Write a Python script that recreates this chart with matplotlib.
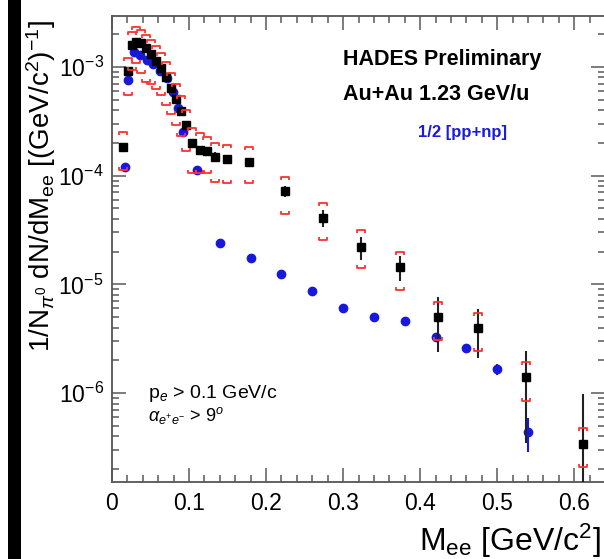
import numpy as np
import matplotlib
matplotlib.use('Agg')
from matplotlib import pyplot as plt
from matplotlib.path import Path
from matplotlib.patches import Rectangle
from matplotlib.ticker import MultipleLocator, LogLocator, FixedLocator, FuncFormatter, NullFormatter

plt.rcParams['font.family'] = ['Liberation Sans', 'DejaVu Sans']
plt.rcParams['mathtext.fontset'] = 'custom'
plt.rcParams['mathtext.rm'] = 'Liberation Sans'
plt.rcParams['mathtext.it'] = 'Liberation Sans:italic'
plt.rcParams['mathtext.bf'] = 'Liberation Sans:bold'

# HADES Au+Au data (black squares)
mee_data = [0.014, 0.021, 0.026, 0.031, 0.038, 0.044, 0.051, 0.057, 0.064, 0.070,
            0.077, 0.083, 0.090, 0.096, 0.104, 0.114, 0.123, 0.134, 0.149, 0.178,
            0.225, 0.274, 0.323, 0.374, 0.423, 0.475, 0.538, 0.612]
yield_data = [1.84e-4, 9.2e-4, 1.59e-3, 1.70e-3, 1.66e-3, 1.50e-3, 1.32e-3, 1.14e-3, 9.8e-4, 8.1e-4,
              6.4e-4, 5.1e-4, 3.9e-4, 2.9e-4, 2.0e-4, 1.72e-4, 1.69e-4, 1.49e-4, 1.42e-4, 1.34e-4,
              7.2e-5, 4.1e-5, 2.2e-5, 1.44e-5, 5.0e-6, 4.0e-6, 1.40e-6, 3.4e-7]
stat_err = [1.2e-5, 4e-5, 6e-5, 6e-5, 6e-5, 5e-5, 4e-5, 4e-5, 3.5e-5, 3e-5,
            2.5e-5, 2e-5, 1.8e-5, 1.5e-5, 1.2e-5, 1.2e-5, 1.2e-5, 1.6e-5, 1.4e-5, 1.0e-5,
            8e-6, 7e-6, 5.3e-6, 3.7e-6, 2.6e-6, 1.9e-6, 1.05e-6, 6.5e-7]
sys_hi = [2.53e-4, 1.21e-3, 2.09e-3, 2.34e-3, 2.19e-3, 1.98e-3, 1.78e-3, 1.57e-3, 1.35e-3, 1.11e-3,
          8.8e-4, 7.0e-4, 5.4e-4, 4.0e-4, 2.75e-4, 2.47e-4, 2.27e-4, 2.0e-4, 1.91e-4, 1.84e-4,
          9.7e-5, 5.6e-5, 3.15e-5, 1.98e-5, 6.9e-6, 5.5e-6, 1.92e-6, 4.75e-7]
sys_lo = [1.13e-4, 5.5e-4, 9.4e-4, 1.09e-3, 8.8e-4, 7.3e-4, 7.0e-4, 6.3e-4, 5.5e-4, 4.5e-4,
          3.7e-4, 2.9e-4, 2.3e-4, 1.7e-4, 1.06e-4, 1.06e-4, 1.06e-4, 8.8e-5, 8.5e-5, 8.6e-5,
          4.4e-5, 2.55e-5, 1.41e-5, 8.8e-6, 3.07e-6, 2.45e-6, 8.4e-7, 2.1e-7]

# 1/2 [pp+np] reference (blue)
mee_ref = [0.017, 0.021, 0.029, 0.036, 0.045, 0.053, 0.062, 0.071, 0.079, 0.086, 0.092, 0.110,
           0.14, 0.18, 0.22, 0.26, 0.30, 0.34, 0.38, 0.42, 0.46, 0.50, 0.54]
yield_ref = [1.21e-4, 7.6e-4, 1.37e-3, 1.29e-3, 1.16e-3, 1.07e-3, 9.2e-4, 7.9e-4, 5.9e-4, 4.2e-4, 2.52e-4, 1.13e-4,
             2.39e-5, 1.75e-5, 1.24e-5, 8.7e-6, 6.1e-6, 5.0e-6, 4.6e-6, 3.3e-6, 2.57e-6, 1.66e-6, 4.4e-7]
err_ref = [6e-6, 3e-5, 5e-5, 5e-5, 4e-5, 4e-5, 3e-5, 3e-5, 2e-5, 1.5e-5, 1e-5, 5e-6,
           1.5e-6, 1.0e-6, 7e-7, 5e-7, 4e-7, 3e-7, 3e-7, 2.5e-7, 2.2e-7, 2e-7, 1.5e-7]

ytick_vals = [1e-6, 1e-5, 1e-4, 1e-3]
ytick_labels = ['$10^{-6}$', '$10^{-5}$', '$10^{-4}$', '$10^{-3}$']

W, H = 604, 559
fig = plt.figure(figsize=(W / 100, H / 100), dpi=100)
fig.patches.append(Rectangle((8 / W, 0), 12.5 / W, 1, transform=fig.transFigure,
                             facecolor='black', edgecolor='none'))

ax = fig.add_axes([112 / W, (H - 482) / H, (605 - 112) / W, (482 - 16) / H])
ax.set_yscale('log')
ax.set_xlim(0, 0.64)
ax.set_ylim(1.52e-7, 2.94e-3)

# bracket markers for systematic errors
cap_top = Path([(-1, -0.7), (-1, 0), (1, 0), (1, -0.7)],
               [Path.MOVETO, Path.LINETO, Path.LINETO, Path.LINETO])
cap_bot = Path([(-1, 0.7), (-1, 0), (1, 0), (1, 0.7)],
               [Path.MOVETO, Path.LINETO, Path.LINETO, Path.LINETO])

ax.errorbar(mee_ref, yield_ref, yerr=err_ref, fmt='o', color='#1818dc', ms=6,
            elinewidth=1.5, capsize=0, zorder=3)
ax.errorbar(mee_data, yield_data, yerr=stat_err, fmt='s', color='black', ms=6.2,
            ecolor='#222222', elinewidth=1.5, capsize=0, zorder=4)
ax.plot(mee_data, sys_hi, ls='none', marker=cap_top, ms=5.6, mfc='none',
        mec='#ff3030', mew=1.3, zorder=5)
ax.plot(mee_data, sys_lo, ls='none', marker=cap_bot, ms=5.6, mfc='none',
        mec='#ff3030', mew=1.3, zorder=5)

ax.xaxis.set_major_locator(MultipleLocator(0.1))
ax.xaxis.set_minor_locator(MultipleLocator(0.02))
ax.xaxis.set_major_formatter(FuncFormatter(lambda v, p: '%g' % round(v, 2)))
ax.yaxis.set_major_locator(FixedLocator(ytick_vals))
ax.set_yticklabels(ytick_labels)
ax.yaxis.set_minor_locator(LogLocator(base=10, subs=np.arange(2, 10)))
ax.yaxis.set_minor_formatter(NullFormatter())

ax.tick_params(which='both', direction='in', top=True, right=True, color='#666666', width=1.2)
ax.tick_params(which='major', length=10, labelsize=16.5, pad=7)
ax.tick_params(which='minor', length=5)
ax.tick_params(axis='y', which='major', pad=6)
for s in ax.spines.values():
    s.set_color('#555555')
    s.set_linewidth(1.3)

fig.text(41 / W, 1 - 20 / H, r'1/N$_{\pi^{0}}$ dN/dM$_{\mathrm{ee}}$ [(GeV/c$^{2}$)$^{-1}$]',
         rotation=90, ha='center', va='top', fontsize=20)
fig.text(601 / W, 1 - 541 / H, r'M$_{\mathrm{ee}}$ [GeV/c$^{2}$]', ha='right', va='center', fontsize=23)

ax.text(343 / W, 1 - 60 / H, 'HADES Preliminary', transform=fig.transFigure,
        fontsize=15.5, fontweight='bold', va='center', ha='left')
ax.text(343 / W, 1 - 94 / H, 'Au+Au 1.23 GeV/u', transform=fig.transFigure,
        fontsize=15.5, fontweight='bold', va='center', ha='left')
ax.text(418 / W, 1 - 132 / H, '1/2 [pp+np]', transform=fig.transFigure,
        fontsize=12, fontweight='bold', color='#1a1ae0', va='center', ha='left')
ax.text(148 / W, 1 - 394 / H, r'p$_{e}$ > 0.1 GeV/c', transform=fig.transFigure,
        fontsize=14, va='center', ha='left')
ax.text(148 / W, 1 - 416 / H, r'$\alpha_{e^{+}e^{-}}$ > 9$^{o}$', transform=fig.transFigure,
        fontsize=13, va='center', ha='left')

fig.savefig('out.png', dpi=100)
